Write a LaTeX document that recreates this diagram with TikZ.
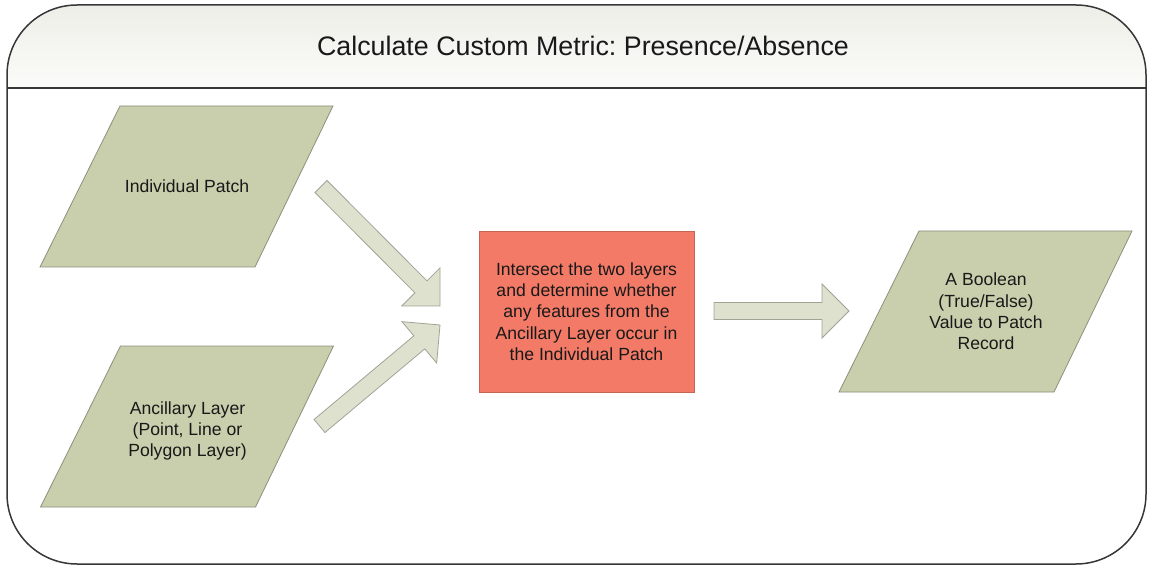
\documentclass[tikz,border=0pt]{standalone}
\usepackage{fontspec}
\setmainfont{Liberation Sans}
\usetikzlibrary{calc}
\frenchspacing
\definecolor{parafill}{RGB}{201,206,172}
\definecolor{paraline}{RGB}{140,145,125}
\definecolor{arrfill}{RGB}{222,225,206}
\definecolor{arrline}{RGB}{160,164,150}
\definecolor{procfill}{RGB}{242,122,102}
\definecolor{procline}{RGB}{195,100,85}
\definecolor{hdtop}{RGB}{238,238,232}
\definecolor{hdbot}{RGB}{251,251,249}
\definecolor{framecol}{RGB}{55,55,55}
\definecolor{txt}{RGB}{25,25,25}
\newcommand\blockarrow[2]{%
  \coordinate (#1base) at ($(#2)!27pt!(#1)$);
  \path[barrow] ($(#1)!8.5pt!90:(#2)$) -- ($(#1base)!8.5pt!90:(#2)$) -- ($(#1base)!27pt!90:(#2)$) -- (#2)
    -- ($(#1base)!27pt!-90:(#2)$) -- ($(#1base)!8.5pt!-90:(#2)$) -- ($(#1)!8.5pt!-90:(#2)$) -- cycle;
}
\begin{document}
\begin{tikzpicture}[x=1pt,y=-1pt,
  para/.style={fill=parafill,draw=paraline,line width=0.8pt,line join=miter},
  ptext/.style={align=center,font=\fontsize{17.6}{21.3}\selectfont,text=txt,inner sep=0pt},
  procbox/.style={fill=procfill,draw=procline,line width=0.8pt,minimum width=215pt,minimum height=161pt,
    align=center,font=\fontsize{17.6}{21.3}\selectfont,text=txt,inner sep=0pt},
  barrow/.style={fill=arrfill,draw=arrline,line width=0.8pt,line join=miter},
  framestyle/.style={draw=framecol,line width=1.5pt}]
\useasboundingbox (0,0) rectangle (1153,569);
% container
\fill[white,rounded corners=70pt] (7,5) rectangle (1146,564);
\begin{scope}
  \clip[rounded corners=70pt] (7,5) rectangle (1146,564);
  \shade[top color=hdtop,bottom color=hdbot] (7,5) rectangle (1146,88);
\end{scope}
\draw[framestyle] (7,88) -- (1146,88);
\draw[framestyle,rounded corners=70pt] (7,5) rectangle (1146,564);
\node[font=\fontsize{26.8}{31}\selectfont,text=txt,inner sep=0pt] (title) at (583,46) {Calculate Custom Metric: Presence/Absence};
% parallelogram centres
\coordinate (ipc) at (187,186.5);
\coordinate (alc) at (187.5,426.5);
\coordinate (bvc) at (986,311.5);
\foreach \c in {ipc,alc,bvc}{
  \path[para] ([shift={(-67,-80.5)}]\c) -- ([shift={(146,-80.5)}]\c) -- ([shift={(68,80.5)}]\c) -- ([shift={(-147,80.5)}]\c) -- cycle;
}
\node[ptext] (ip) at (ipc) {Individual Patch};
\node[ptext] (al) at ($(alc)+(0,4.5)$) {Ancillary Layer\\(Point, Line or\\Polygon Layer)};
\node[ptext] (bv) at (bvc) {A Boolean\\(True/False)\\Value to Patch\\Record};
\node[procbox] (proc) at (586.5,311.5) {Intersect the two layers\\and determine whether\\any features from the\\Ancillary Layer occur in\\the Individual Patch};
% block arrows
\coordinate (a1t) at (321,186.5);
\coordinate (a1h) at (440,306);
\coordinate (a2t) at (319.5,426);
\coordinate (a2h) at (440,325);
\coordinate (a3t) at (714,311);
\coordinate (a3h) at (849,311);
\blockarrow{a1t}{a1h}
\blockarrow{a2t}{a2h}
\blockarrow{a3t}{a3h}
\end{tikzpicture}
\end{document}
